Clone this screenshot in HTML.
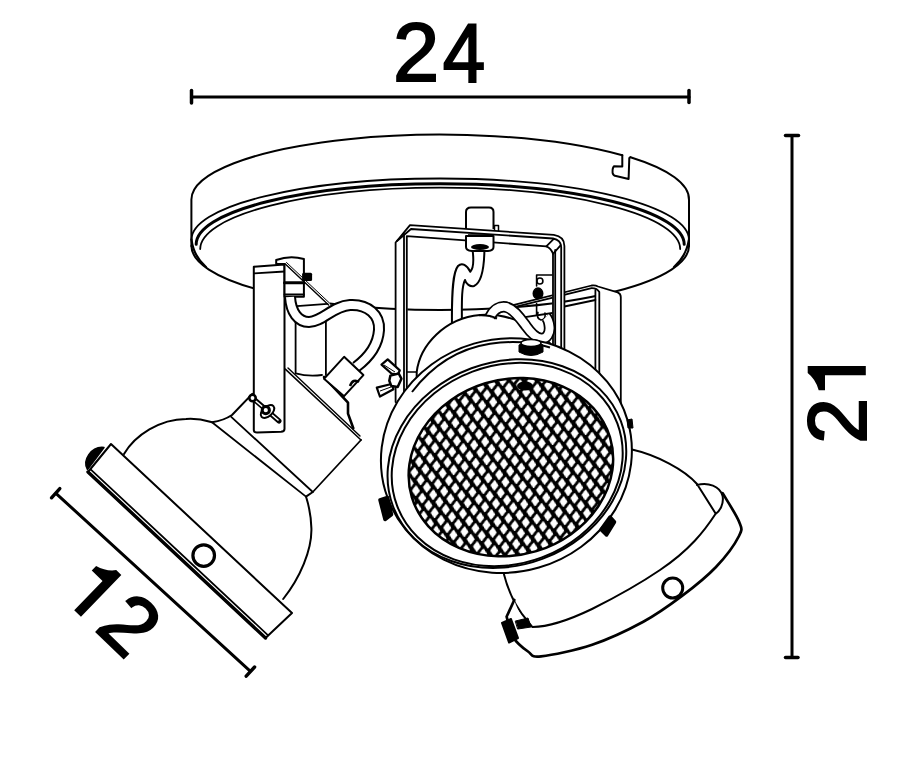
<!DOCTYPE html>
<html><head><meta charset="utf-8">
<style>
html,body{margin:0;padding:0;background:#fff;width:900px;height:764px;overflow:hidden}
svg{display:block}
text{font-family:"Liberation Sans",sans-serif}
</style></head>
<body>
<svg width="900" height="764" viewBox="0 0 900 764">
<rect width="900" height="764" fill="#fff"/>
<!-- DIMENSIONS -->
<g stroke="#000" fill="none" stroke-linecap="round">
<path d="M191.5,97 H689" stroke-width="3.2"/>
<path d="M191.5,90.5 V103" stroke-width="3.5"/>
<path d="M689,90.5 V102.5" stroke-width="3.5"/>
<path d="M792,136 V657" stroke-width="3"/>
<path d="M785.5,135.5 H798.5" stroke-width="3.5"/>
<path d="M785.5,657.5 H798" stroke-width="3.5"/>
<path d="M56.2,493.6 L249.9,670.9" stroke-width="3"/>
<path d="M51.5,497.8 L59.8,488.6" stroke-width="3.4"/>
<path d="M246.2,676.2 L254.6,667" stroke-width="3.4"/>
</g>
<text id="t2" x="393" y="80.5" font-size="83" stroke="#000" stroke-width="2">2</text>
<text id="t4" x="439.15" y="81.6" font-size="83" stroke="#000" stroke-width="2" transform="translate(484.5,0) scale(0.92,1) translate(-484.5,0)">4</text>
<path id="one21" transform="translate(865.8,375.3) rotate(-90)" d="M9.4,0 V-58.1 H2.3 Q-4,-50 -15,-47.1 V-40.8 H0 V0 Z" fill="#000"/>
<text id="two21" transform="translate(865.8,375.3) rotate(-90)" x="-68.7" y="0" font-size="83" stroke="#000" stroke-width="2">2</text>
<path id="one12" transform="translate(74.2,610.3) rotate(44)" d="M9.4,0 V-58.1 H2.3 Q-4,-50 -15,-47.1 V-40.8 H0 V0 Z" fill="#000"/>
<text id="two12" transform="translate(74.2,610.3) rotate(44)" x="27" y="0" font-size="83" stroke="#000" stroke-width="2">2</text>
<!-- CANOPY -->
<g id="canopy" stroke="#000" fill="none" stroke-width="2" stroke-linejoin="round" stroke-linecap="round">
<path d="M191.4,246 V200 A248.8,65 0 0 1 622.3,155.3"/>
<path d="M630.5,157.2 A248.8,65 0 0 1 689,200 V246"/>
<path d="M622.3,155.3 V166.6 L614,166.3 Q612.2,168 612.6,173 Q613.5,176 616,176 L628.6,179 L629.3,158 L630.5,157.2"/>
<path d="M191.4,246 A248.8,64 0 0 0 689,246" fill="#fff"/>
<path d="M191.5,239.6 A248.7,61.1 0 0 1 688.9,239.6" stroke-width="1.8"/>
<path d="M196.2,244.3 A244,60.5 0 0 1 684.2,244.3" stroke-width="3"/>
<path d="M200.2,249 A240,61.4 0 0 1 680.2,249" stroke-width="1.8"/>
<path d="M191.5,239.6 C193,252 198,260 206,267" stroke-width="2.2"/>
<path d="M688.9,239.6 C687,252 682,260 674,267" stroke-width="2.2"/>
</g>
<!-- RIGHT BRACKET -->
<g id="rbracket" stroke="#000" fill="none" stroke-width="1.8" stroke-linejoin="round" stroke-linecap="round">
<path d="M591.6,285.5 L617.6,292.3 Q620.8,293.5 620.8,297 V420 H595.4 V290 Z" fill="#fff" stroke="none"/>
<path d="M513.1,305.2 L591.6,285.5 Q595,284.8 598,286.5 L617.6,292.3 Q620.8,293.5 620.8,297 V420" />
<path d="M513.1,307.4 L591.6,288.1 Q597,288 599.3,292 V420"/>
<path d="M595.4,290 V420"/>
<path d="M521.6,317.6 L552.5,313 M564.4,306.5 L595.4,300"/>
<path d="M536.6,286 V275 H552.4" stroke-width="1.6"/>
<circle cx="539.9" cy="281" r="3" stroke-width="1.6"/>
<ellipse cx="538" cy="293.4" rx="4.6" ry="5.2" fill="#000"/>
<path d="M536.6,303.5 V315 M538,312.4 Q536,318 541,320 Q546,320 545,313" stroke-width="1.6"/>
</g>
<!-- RIGHT LAMP -->
<g id="rlamp" stroke="#000" fill="#fff" stroke-width="2" stroke-linejoin="round" stroke-linecap="round">
<path d="M631,449.2 C657,455 685,470 697,484 L715.3,514.3 L528.3,621.8 C518,610 508,592 504,574.5 Z" stroke="none"/>
<path d="M631,449.2 C657,455 685,470 697,484 L715.3,513" fill="none"/>
<path d="M504,574.5 C508,590 516,608 528.3,621.8" fill="none"/>
<path d="M697,485 C708,482 720,486 722.6,496 C725.3,497.9 736.3,514.5 739.0,521.6 C741.7,528.7 742.8,528.4 739.0,536.0 C735.2,543.6 725.5,557.0 716.0,567.0 C706.5,577.0 693.8,587.1 681.7,596.2 C669.6,605.3 658.2,613.7 643.3,621.8 C628.4,629.9 609.2,639.0 592.2,644.8 C575.2,650.5 551.8,655.2 541.1,656.3 C530.4,657.4 532.7,654.7 528.0,651.5 C523.3,648.3 516.6,642.8 513.0,637.0 C509.4,631.2 507.7,620.1 506.6,616.7 L514.3,600 C518,612 524,622 532.2,626.9 C545,627 565,622 592,609 C610,600 635,587 660,570 C690,550 705,530 715.3,514.3 C720,511 724,504 722.6,496 Z" stroke="none"/>
<path d="M697,485 C708,482 720,486 722.6,496 C724,504 720,511 715.3,514.3 C705,530 690,550 660,570 C635,587 610,600 592,609 C565,622 545,627 532.2,626.9 L528.3,621.8" fill="none"/>
<path d="M722.6,493.2 C725.3,497.9 736.3,514.5 739.0,521.6 C741.7,528.7 742.8,528.4 739.0,536.0 C735.2,543.6 725.5,557.0 716.0,567.0 C706.5,577.0 693.8,587.1 681.7,596.2 C669.6,605.3 658.2,613.7 643.3,621.8 C628.4,629.9 609.2,639.0 592.2,644.8 C575.2,650.5 551.8,655.2 541.1,656.3 C530.4,657.4 532.7,654.7 528.0,651.5 C523.3,648.3 516.6,642.8 513.0,637.0 C509.4,631.2 507.7,620.1 506.6,616.7 L514.3,600" fill="none" stroke-width="2.7"/>
<circle cx="672.7" cy="588" r="10" stroke-width="3"/>
<path d="M502,623 L511,619 L518,638 L509,642.5 Z" fill="#000"/>
<path d="M515.6,621 L528,618 L531,627 L518,629 Z" fill="#000" stroke-width="1"/>
</g>
<!-- CENTRAL BRACKET -->
<g id="cbracket" stroke="#000" fill="none" stroke-width="1.8" stroke-linejoin="round" stroke-linecap="round">
<path d="M552.5,252 H564.4 V350 H552.5 Z M395.6,243 H407.4 V402 H395.6 Z" fill="#fff" stroke="none"/>
<path d="M395.6,402 V242.5 L410,225.2 L553.8,234.9 Q564.4,236.5 564.4,246 V350"/>
<path d="M397,241 L411,229 L553,238.5 Q561,240 561.2,247 V350"/>
<path d="M404,396 V234"/>
<path d="M406.8,392 V236.2 L546.3,246.3 Q551,248 553,253.8 V350"/>
<path d="M546.3,246.3 L553.8,238.9 M553,253.8 L560.8,245.1"/>
<path d="M555.2,350 V250"/>
<path d="M407,372 H419" stroke-width="1.5"/>
</g>
<!-- STEM -->
<g id="stem" stroke="#000" fill="#fff" stroke-width="2" stroke-linejoin="round">
<path d="M466,229 V212 Q466,207.5 471,207.5 H489 Q493.5,207.5 493.5,212 V229" fill="none"/>
<path d="M494.5,231 V225.5 H498.5 V231" stroke-width="1.5" fill="none"/>
<path d="M466,236 V247 Q466,250.5 472,251 H488 Q493.5,250.5 493.5,247 V236 Z"/>
<path d="M468,235.5 H492" stroke-width="2.5"/>
<ellipse cx="480" cy="247" rx="9" ry="3" fill="#000" stroke="none"/>
<path d="M472.7,251 C474,262 473,269 470.3,271.7 C467,265 462,262 458,266 C453,272 451.5,290 452,328 L462,328 C461.5,296 462,286 465,280 C466,284 470,287 474,286 C481,283 484,270 484.4,251 Z"/>
</g>
<!-- CENTRAL LAMP -->
<defs>
<pattern id="mesh" width="11.5" height="26.7" patternUnits="userSpaceOnUse" patternTransform="translate(505,462)">
<rect width="11.5" height="26.7" fill="#000"/>
<path d="M-33.66,-17.80 l3.3,-4.5 l3.1,4.5 l-3.3,4.5 z" fill="#fff" stroke="#fff" stroke-width="1.4" stroke-linejoin="round" transform="rotate(18 -30.66 -17.80)"/><path d="M-22.16,-17.80 l3.3,-4.5 l3.1,4.5 l-3.3,4.5 z" fill="#fff" stroke="#fff" stroke-width="1.4" stroke-linejoin="round" transform="rotate(18 -19.16 -17.80)"/><path d="M-10.66,-17.80 l3.3,-4.5 l3.1,4.5 l-3.3,4.5 z" fill="#fff" stroke="#fff" stroke-width="1.4" stroke-linejoin="round" transform="rotate(18 -7.66 -17.80)"/><path d="M0.84,-17.80 l3.3,-4.5 l3.1,4.5 l-3.3,4.5 z" fill="#fff" stroke="#fff" stroke-width="1.4" stroke-linejoin="round" transform="rotate(18 3.84 -17.80)"/><path d="M12.34,-17.80 l3.3,-4.5 l3.1,4.5 l-3.3,4.5 z" fill="#fff" stroke="#fff" stroke-width="1.4" stroke-linejoin="round" transform="rotate(18 15.34 -17.80)"/><path d="M-29.83,-8.90 l3.3,-4.5 l3.1,4.5 l-3.3,4.5 z" fill="#fff" stroke="#fff" stroke-width="1.4" stroke-linejoin="round" transform="rotate(18 -26.83 -8.90)"/><path d="M-18.33,-8.90 l3.3,-4.5 l3.1,4.5 l-3.3,4.5 z" fill="#fff" stroke="#fff" stroke-width="1.4" stroke-linejoin="round" transform="rotate(18 -15.33 -8.90)"/><path d="M-6.83,-8.90 l3.3,-4.5 l3.1,4.5 l-3.3,4.5 z" fill="#fff" stroke="#fff" stroke-width="1.4" stroke-linejoin="round" transform="rotate(18 -3.83 -8.90)"/><path d="M4.67,-8.90 l3.3,-4.5 l3.1,4.5 l-3.3,4.5 z" fill="#fff" stroke="#fff" stroke-width="1.4" stroke-linejoin="round" transform="rotate(18 7.67 -8.90)"/><path d="M16.17,-8.90 l3.3,-4.5 l3.1,4.5 l-3.3,4.5 z" fill="#fff" stroke="#fff" stroke-width="1.4" stroke-linejoin="round" transform="rotate(18 19.17 -8.90)"/><path d="M-26.00,0.00 l3.3,-4.5 l3.1,4.5 l-3.3,4.5 z" fill="#fff" stroke="#fff" stroke-width="1.4" stroke-linejoin="round" transform="rotate(18 -23.00 0.00)"/><path d="M-14.50,0.00 l3.3,-4.5 l3.1,4.5 l-3.3,4.5 z" fill="#fff" stroke="#fff" stroke-width="1.4" stroke-linejoin="round" transform="rotate(18 -11.50 0.00)"/><path d="M-3.00,0.00 l3.3,-4.5 l3.1,4.5 l-3.3,4.5 z" fill="#fff" stroke="#fff" stroke-width="1.4" stroke-linejoin="round" transform="rotate(18 0.00 0.00)"/><path d="M8.50,0.00 l3.3,-4.5 l3.1,4.5 l-3.3,4.5 z" fill="#fff" stroke="#fff" stroke-width="1.4" stroke-linejoin="round" transform="rotate(18 11.50 0.00)"/><path d="M20.00,0.00 l3.3,-4.5 l3.1,4.5 l-3.3,4.5 z" fill="#fff" stroke="#fff" stroke-width="1.4" stroke-linejoin="round" transform="rotate(18 23.00 0.00)"/><path d="M-22.17,8.90 l3.3,-4.5 l3.1,4.5 l-3.3,4.5 z" fill="#fff" stroke="#fff" stroke-width="1.4" stroke-linejoin="round" transform="rotate(18 -19.17 8.90)"/><path d="M-10.67,8.90 l3.3,-4.5 l3.1,4.5 l-3.3,4.5 z" fill="#fff" stroke="#fff" stroke-width="1.4" stroke-linejoin="round" transform="rotate(18 -7.67 8.90)"/><path d="M0.83,8.90 l3.3,-4.5 l3.1,4.5 l-3.3,4.5 z" fill="#fff" stroke="#fff" stroke-width="1.4" stroke-linejoin="round" transform="rotate(18 3.83 8.90)"/><path d="M12.33,8.90 l3.3,-4.5 l3.1,4.5 l-3.3,4.5 z" fill="#fff" stroke="#fff" stroke-width="1.4" stroke-linejoin="round" transform="rotate(18 15.33 8.90)"/><path d="M23.83,8.90 l3.3,-4.5 l3.1,4.5 l-3.3,4.5 z" fill="#fff" stroke="#fff" stroke-width="1.4" stroke-linejoin="round" transform="rotate(18 26.83 8.90)"/><path d="M-18.34,17.80 l3.3,-4.5 l3.1,4.5 l-3.3,4.5 z" fill="#fff" stroke="#fff" stroke-width="1.4" stroke-linejoin="round" transform="rotate(18 -15.34 17.80)"/><path d="M-6.84,17.80 l3.3,-4.5 l3.1,4.5 l-3.3,4.5 z" fill="#fff" stroke="#fff" stroke-width="1.4" stroke-linejoin="round" transform="rotate(18 -3.84 17.80)"/><path d="M4.66,17.80 l3.3,-4.5 l3.1,4.5 l-3.3,4.5 z" fill="#fff" stroke="#fff" stroke-width="1.4" stroke-linejoin="round" transform="rotate(18 7.66 17.80)"/><path d="M16.16,17.80 l3.3,-4.5 l3.1,4.5 l-3.3,4.5 z" fill="#fff" stroke="#fff" stroke-width="1.4" stroke-linejoin="round" transform="rotate(18 19.16 17.80)"/><path d="M27.66,17.80 l3.3,-4.5 l3.1,4.5 l-3.3,4.5 z" fill="#fff" stroke="#fff" stroke-width="1.4" stroke-linejoin="round" transform="rotate(18 30.66 17.80)"/><path d="M-14.51,26.70 l3.3,-4.5 l3.1,4.5 l-3.3,4.5 z" fill="#fff" stroke="#fff" stroke-width="1.4" stroke-linejoin="round" transform="rotate(18 -11.51 26.70)"/><path d="M-3.01,26.70 l3.3,-4.5 l3.1,4.5 l-3.3,4.5 z" fill="#fff" stroke="#fff" stroke-width="1.4" stroke-linejoin="round" transform="rotate(18 -0.01 26.70)"/><path d="M8.49,26.70 l3.3,-4.5 l3.1,4.5 l-3.3,4.5 z" fill="#fff" stroke="#fff" stroke-width="1.4" stroke-linejoin="round" transform="rotate(18 11.49 26.70)"/><path d="M19.99,26.70 l3.3,-4.5 l3.1,4.5 l-3.3,4.5 z" fill="#fff" stroke="#fff" stroke-width="1.4" stroke-linejoin="round" transform="rotate(18 22.99 26.70)"/><path d="M31.49,26.70 l3.3,-4.5 l3.1,4.5 l-3.3,4.5 z" fill="#fff" stroke="#fff" stroke-width="1.4" stroke-linejoin="round" transform="rotate(18 34.49 26.70)"/><path d="M-10.68,35.60 l3.3,-4.5 l3.1,4.5 l-3.3,4.5 z" fill="#fff" stroke="#fff" stroke-width="1.4" stroke-linejoin="round" transform="rotate(18 -7.68 35.60)"/><path d="M0.82,35.60 l3.3,-4.5 l3.1,4.5 l-3.3,4.5 z" fill="#fff" stroke="#fff" stroke-width="1.4" stroke-linejoin="round" transform="rotate(18 3.82 35.60)"/><path d="M12.32,35.60 l3.3,-4.5 l3.1,4.5 l-3.3,4.5 z" fill="#fff" stroke="#fff" stroke-width="1.4" stroke-linejoin="round" transform="rotate(18 15.32 35.60)"/><path d="M23.82,35.60 l3.3,-4.5 l3.1,4.5 l-3.3,4.5 z" fill="#fff" stroke="#fff" stroke-width="1.4" stroke-linejoin="round" transform="rotate(18 26.82 35.60)"/><path d="M35.32,35.60 l3.3,-4.5 l3.1,4.5 l-3.3,4.5 z" fill="#fff" stroke="#fff" stroke-width="1.4" stroke-linejoin="round" transform="rotate(18 38.32 35.60)"/>
</pattern>
</defs>
<g id="clamp" stroke="#000" fill="#fff" stroke-width="2" stroke-linejoin="round">
<path d="M416.7,382 V372 C420,345 445,318 480,315 C510,313 535,325 556,350 Z"/>
</g>
<!-- RIGHT LAMP CABLE -->
<g fill="none" stroke-linecap="butt">
<path d="M490,317 C494,309 500,306 506,307 C514,309 520,318 526,326 C531,333 536,338 541,338.5 C547,339 550,333 549.5,327 C549,322 548,319 546,317" stroke="#000" stroke-width="11.5"/>
<path d="M490,317 C494,309 500,306 506,307 C514,309 520,318 526,326 C531,333 536,338 541,338.5 C547,339 550,333 549.5,327 C549,322 548,319 546,317" stroke="#fff" stroke-width="8"/>
</g>
<path d="M479,315.3 C486,315 492,316 497,318.5" stroke="#000" stroke-width="2" fill="none"/>
<g stroke="#000" fill="#fff" stroke-width="2" stroke-linejoin="round">
<ellipse cx="506.4" cy="455.6" rx="126.2" ry="116.6" transform="rotate(-16.2 506.4 455.6)"/>
<path d="M412,392 C425,375 450,350 490,343.8 C512,340.5 532,342 550,347.5" fill="none"/>
<ellipse cx="506.9" cy="463.6" rx="121.6" ry="101.7" transform="rotate(-20.4 506.9 463.6)" fill="none"/>
<ellipse cx="507.2" cy="464.5" rx="117.6" ry="99.2" transform="rotate(-20.5 507.2 464.5)" fill="none"/>
<ellipse cx="510.9" cy="467.2" rx="103.5" ry="87.7" transform="rotate(-16.9 510.9 467.2)" fill="url(#mesh)" stroke-width="2.5"/>
</g>
<ellipse cx="525" cy="386" rx="8" ry="4.5" fill="#000"/>
<g id="cknobs" fill="#000" stroke="#000">
<path d="M519,345 Q531,337 543,345 V352 Q531,359 519,352 Z"/>
<ellipse cx="531" cy="343" rx="10" ry="3.5" fill="#fff" stroke-width="1.5"/>
<path d="M380,500 L387.5,497.5 L391.5,514.5 L385,519.5 Z" stroke-width="3.5" stroke-linejoin="round"/>
<path d="M601,529.5 L610,517 L614.5,522 L606.5,535 Z" stroke-width="3.5" stroke-linejoin="round"/>
<path d="M627,420 L632,419 L633,428 L628,428 Z"/>
</g>
<!-- LEFT LAMP -->
<g id="llamp" stroke="#000" fill="#fff" stroke-width="2" stroke-linejoin="round" stroke-linecap="round">
<!-- side face / cylinder behind bar -->
<path d="M284,292 L330,296 V374 C320,376 305,376 295.6,373.3 L284,372 Z" stroke="none"/>
<path d="M296.8,306.2 L327.4,303.9" fill="none" stroke-width="1.8"/>
<path d="M295.6,320 V373.3 M325.9,318 V375 M295.6,373.3 C305,376 315,376 322,375" fill="none" stroke-width="1.8"/>
<!-- dome -->
<path d="M111,444 L124,454 C135,435 160,419 186,418.9 C200,418 206,420.5 212,422.3 L231.2,416.8 L252.3,393.9 L285.3,369.2 L361,440 L312.8,492 L306,496.6 C308,503 311,512 311.4,528.4 C312,550 300,578 283.2,599 L292,613 Z" stroke="none"/>
<path d="M124,454 C135,435 160,419 186,418.9 C200,418 206,420.5 212,422.3 C220,421 226,419 232,415 L252.3,393.9" fill="none"/>
<path d="M283.2,599 C300,578 312,550 311.4,528.4 C311,512 308,503 306,496.6 L312.8,492" fill="none"/>
<path d="M212,422.3 L306,496.6" fill="none" stroke-width="1.8"/>
<path d="M231.2,416.8 L312.8,492 L361,440" fill="none" stroke-width="1.8"/>
<path d="M285.3,369.2 L361,440" fill="none" stroke-width="1.6"/>
<path d="M288,368 L360,436" fill="none" stroke-width="1.4"/>
<path d="M324,377 L348,402.6 V413.6 L353.3,428.3" fill="none" stroke-width="2.6"/>
<!-- rim -->
<path d="M111,444 L292,613 L265.5,638 L88,472 Z" stroke-width="2"/>
<path d="M88,472 L265.5,638" fill="none" stroke-width="3.4"/>
<path d="M90.6,469.3 L268.1,635.3" fill="none" stroke-width="1.8"/>
<circle cx="203.7" cy="555.6" r="10.8" stroke-width="3.2"/>
<path d="M87.5,469.5 C82,461 91,446 104,447.5 Z" fill="#000" stroke-width="1.5"/>
<!-- bar -->
<path d="M253.8,430 V266.8 L284.5,264.4 V429 Q284.5,431.5 281,431.8 L257,432.5 Q253.8,432.5 253.8,430 Z"/>
<path d="M254.4,273.3 L284.5,271.5" fill="none" stroke-width="1.8"/>
<path d="M252.5,398 L279,421" fill="none" stroke-width="5" stroke-linecap="round"/>
<path d="M254,399.5 L278,420" fill="none" stroke="#fff" stroke-width="1.6"/>
<ellipse cx="267.5" cy="411.5" rx="8" ry="4.8" transform="rotate(-42 267.5 411.5)" stroke-width="2"/>
<circle cx="252.5" cy="398" r="3.2" stroke-width="2.6"/>
<circle cx="265.8" cy="410.2" r="3.6" stroke-width="3"/>
<!-- cap and block -->
<path d="M276.2,264 V260 Q290,255 303.9,259 V296.8 H284.5 V264 Z"/>
<path d="M284.5,282.7 H303.9" fill="none" stroke-width="3"/>
<path d="M284.5,294.5 H303.9" fill="none" stroke-width="1.8"/>
<rect x="302.1" y="272.7" width="10" height="8.2" fill="#000" stroke="none" rx="1.5"/>
<path d="M285,263.8 L328.6,305" fill="none" stroke-width="1.4"/>
<path d="M286.5,262.5 L330,303.5" fill="none" stroke-width="1"/>
</g>
<g fill="none" stroke-linecap="butt">
<path d="M290,297 C291,312 298,322 309,322 C322,322 333,306 350,305 C368,304 380,315 379,330 C378,345 368,358 356,367" stroke="#000" stroke-width="12"/>
<path d="M290,297 C291,312 298,322 309,322 C322,322 333,306 350,305 C368,304 380,315 379,330 C378,345 368,358 356,367" stroke="#fff" stroke-width="8"/>
</g>
<g stroke="#000" fill="#fff" stroke-width="2" stroke-linejoin="round">
<path d="M344.1,356.8 L363.4,375.1 L344.1,396.2 L324,378.8 Z"/>
<path d="M350,386 Q353,378 359,382" fill="none" stroke-width="2.5"/>
</g>
<!-- central wing nut -->
<g stroke="#000" fill="#fff" stroke-width="2.2" stroke-linejoin="round">
<path d="M381.5,364.6 L387.7,359.4 L399.8,370.4 L397.7,374.6 L391.4,373.5 Z"/>
<path d="M376.8,387.6 L391.4,384 L393.5,389.2 L379.9,396.5 Z"/>
<path d="M390.4,375.6 L398.7,373.5 L401.4,378.7 L397.7,387.1 L391.4,386.1 L389.3,380.8 Z" stroke-width="2.5"/>
<path d="M384,365 L395,372 M380,391 L391,387" stroke-width="1"/>
</g>
</svg>
</body></html>
